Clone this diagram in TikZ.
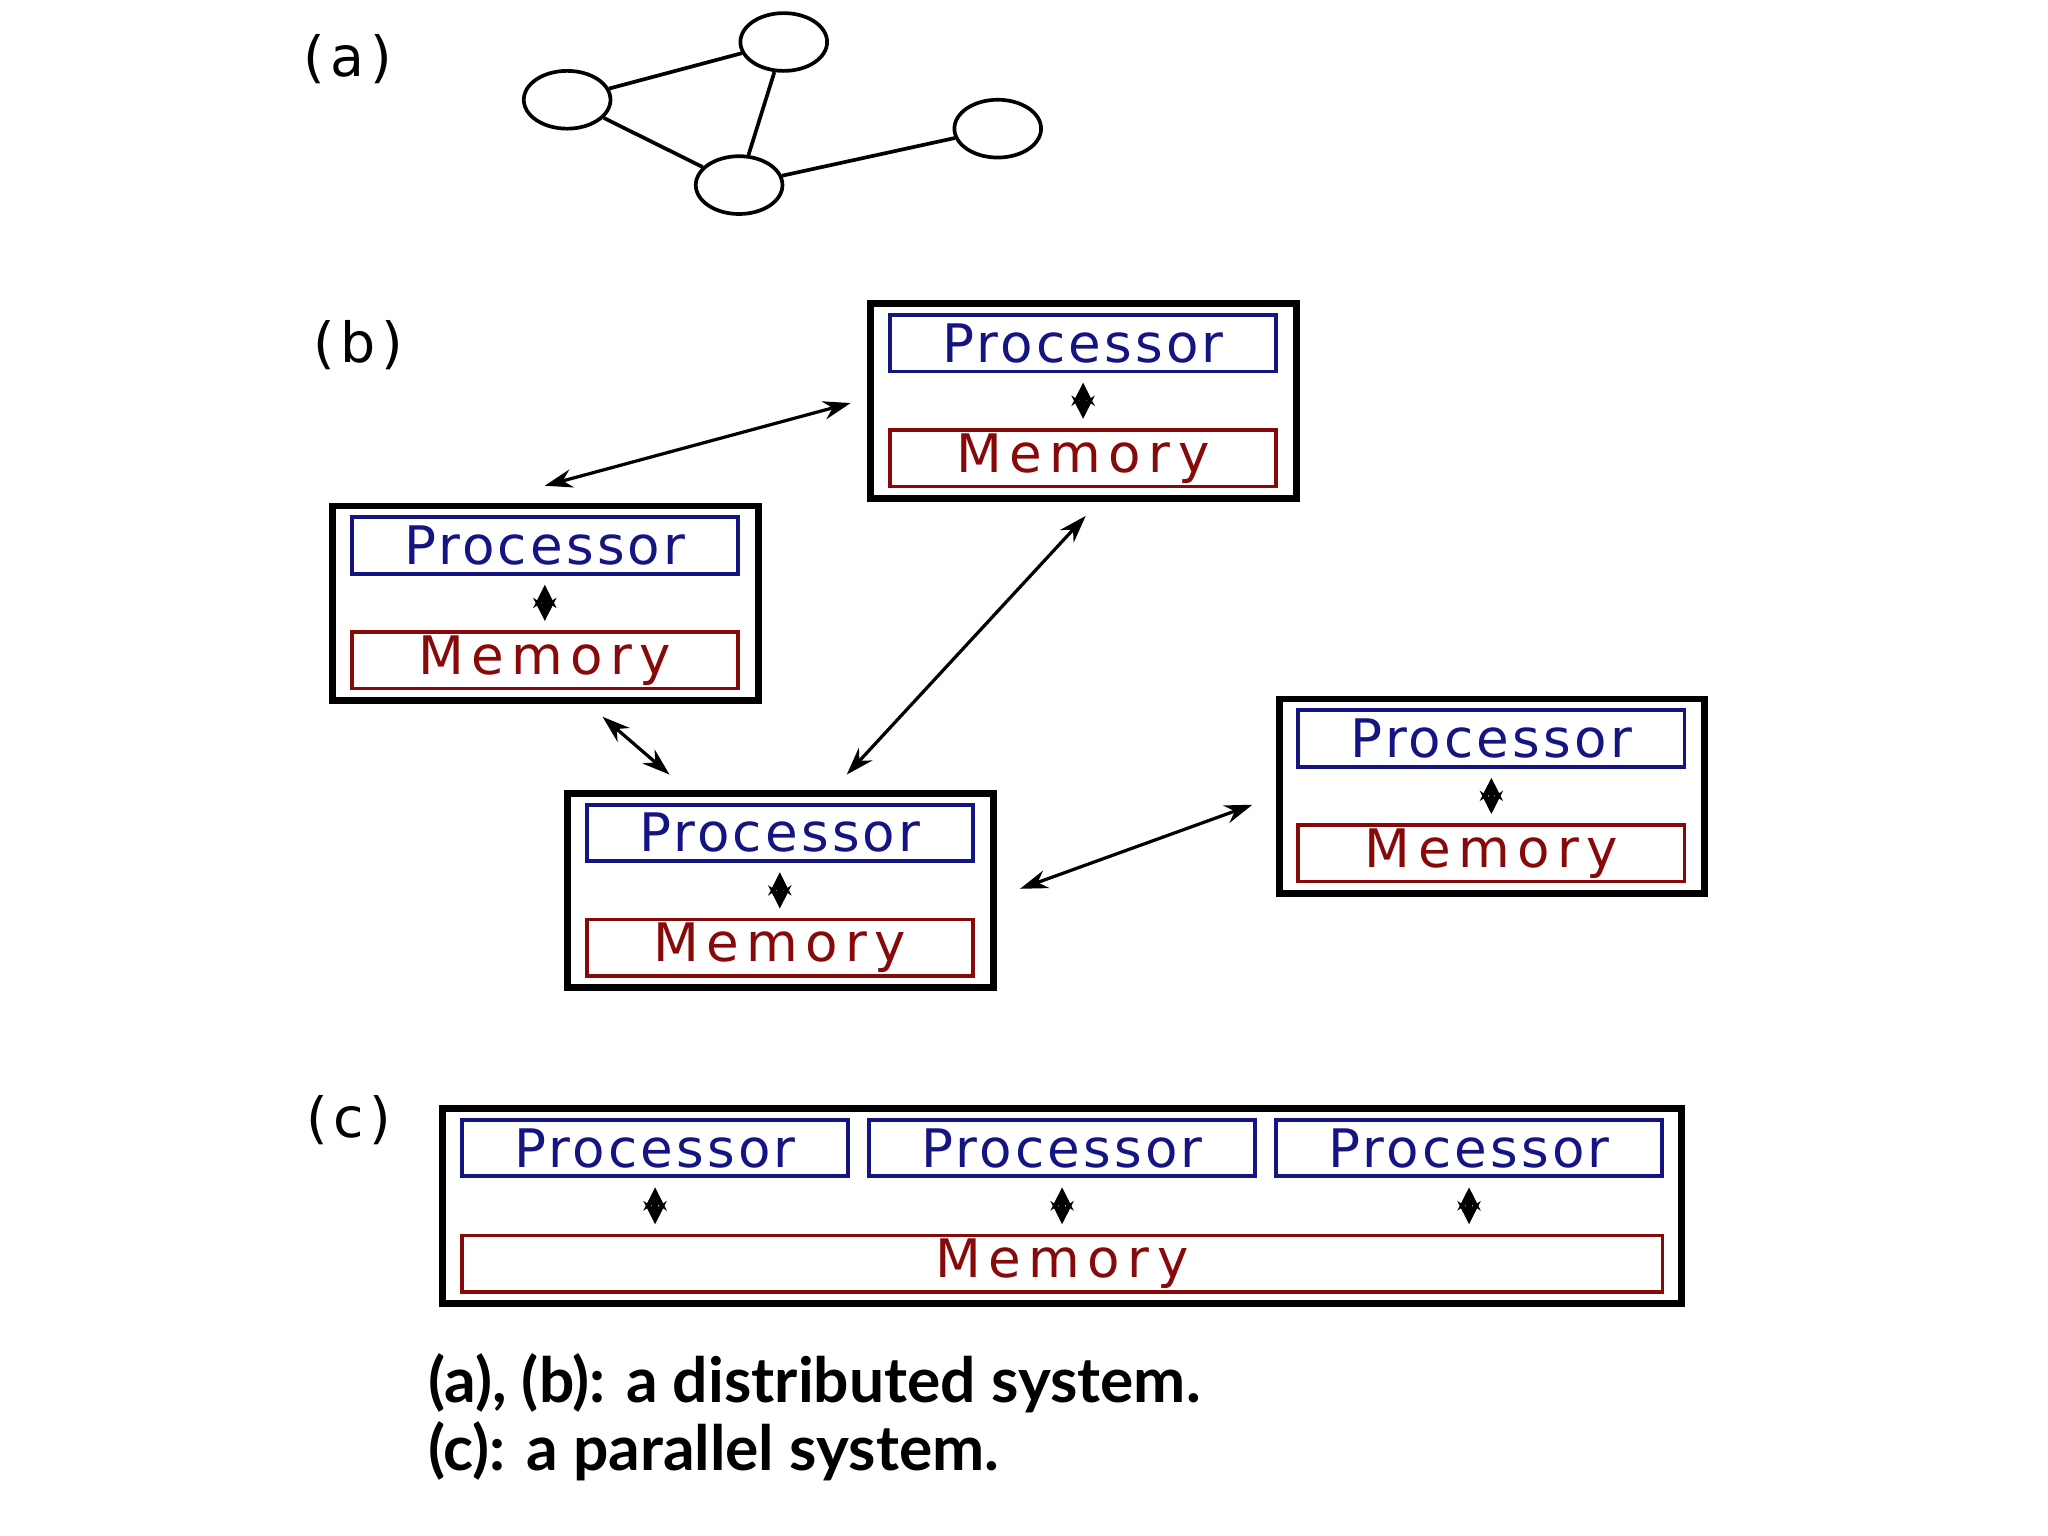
\documentclass[tikz,border=0pt]{standalone}
\usepackage{fontspec}
\setmainfont{DejaVu Sans}
\newfontfamily\capfont{Lato}
\usetikzlibrary{arrows.meta}
\definecolor{procblue}{RGB}{20,20,130}
\definecolor{memred}{RGB}{135,10,10}
\tikzset{
  outer/.style={draw, line width=1.5pt, minimum width=3.24cm, minimum height=1.48cm, inner sep=0pt},
  pbox/.style={draw=procblue, line width=0.8pt, text=procblue, minimum width=2.94cm, minimum height=0.43cm, inner sep=0pt,
    font=\fontsize{11.5}{12}\selectfont\addfontfeature{LetterSpace=6}},
  mbox/.style={pbox, draw=memred, text=memred, font=\fontsize{11.5}{12}\selectfont\addfontfeature{LetterSpace=14}},
  inarrow/.style={{Stealth[length=5pt,width=5pt]}-{Stealth[length=5pt,width=5pt]}, line width=1.2pt, shorten <=2pt, shorten >=2pt},
  link/.style={{Stealth[length=6pt,width=4pt]}-{Stealth[length=6pt,width=4pt]}, line width=0.7pt},
  gnode/.style={draw, line width=0.8pt, ellipse, minimum width=0.66cm, minimum height=0.44cm, inner sep=0pt},
  lab/.style={font=\fontsize{12}{14}\selectfont\addfontfeature{LetterSpace=10}}
}
\usetikzlibrary{shapes.geometric}
% module: #1 name prefix, #2 top-left x, #3 top-left y
\newcommand\mymodule[3]{%
  \node[outer] (#1) at (#2+164.5,#3+76.5) {};
  \node[pbox] (#1p) at (#2+164,#3+32.5) {Processor};
  \node[mbox] (#1m) at (#2+164,#3+120) {Memory};
  \draw[inarrow] (#1p.south) -- (#1m.north);
}
\begin{document}
\begin{tikzpicture}[x=0.01cm, y=-0.01cm]
\useasboundingbox (0,0) rectangle (1560,1170);

% ---- (a) graph
\node[lab] (la) at (265,45) {(a)};
\node[gnode] (ga) at (432,76) {};
\node[gnode] (gb) at (597,32) {};
\node[gnode] (gc) at (563,141) {};
\node[gnode] (gd) at (760,98) {};
\draw[line width=0.8pt] (ga) -- (gb);
\draw[line width=0.8pt] (ga) -- (gc);
\draw[line width=0.8pt] (gb) -- (gc);
\draw[line width=0.8pt] (gc) -- (gd);

% ---- (b) distributed
\node[lab] (lb) at (273,263) {(b)};
\mymodule{T}{661}{229}
\mymodule{L}{251}{383}
\mymodule{M}{430}{602}
\mymodule{R}{972}{530}

\coordinate (l1) at (415,370);
\coordinate (t1) at (648,307);
\coordinate (l2) at (459,546);
\coordinate (m1) at (510,590);
\coordinate (m2) at (645,590);
\coordinate (t2) at (827,393);
\coordinate (m3) at (777,677);
\coordinate (r1) at (954,613);
\draw[link] (l1) -- (t1);
\draw[link] (l2) -- (m1);
\draw[link] (m2) -- (t2);
\draw[link] (m3) -- (r1);

% ---- (c) parallel
\node[lab] (lc) at (266,853) {(c)};
\node[outer, minimum width=9.43cm] (P) at (809,918.5) {};
\node[pbox] (p1) at (499,874.5) {Processor};
\node[pbox] (p2) at (809,874.5) {Processor};
\node[pbox] (p3) at (1119,874.5) {Processor};
\node[mbox, minimum width=9.14cm] (pm) at (809,962.5) {Memory};
\draw[inarrow] (p1.south) -- (p1.south |- pm.north);
\draw[inarrow] (p2.south) -- (p2.south |- pm.north);
\draw[inarrow] (p3.south) -- (p3.south |- pm.north);

% ---- caption
\node[anchor=base west, font=\capfont\bfseries\fontsize{13.5}{16}\selectfont] (c1) at (314,1068) {(a), (b): a distributed system.};
\node[anchor=base west, font=\capfont\bfseries\fontsize{13.5}{16}\selectfont] (c2) at (314,1120) {(c): a parallel system.};
\end{tikzpicture}
\end{document}
